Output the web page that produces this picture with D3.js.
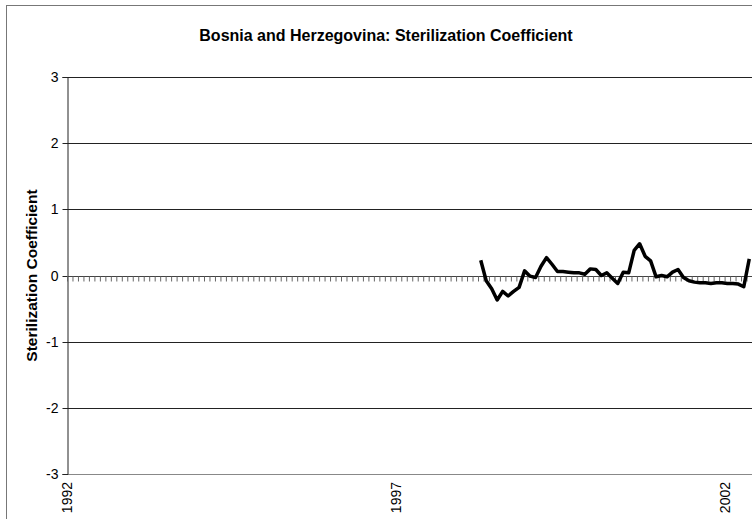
<!DOCTYPE html>
<html>
<head>
<meta charset="utf-8">
<script src="https://cdn.jsdelivr.net/npm/d3@7"></script>
<style>
  html, body { margin: 0; padding: 0; background: #fff; }
  svg { display: block; }
</style>
</head>
<body>
<svg id="chart" width="752" height="519"></svg>
<script>
// ---- data ----
const title = "Bosnia and Herzegovina: Sterilization Coefficient";
const yLabel = "Sterilization Coefficient";
const yTicks = [-3, -2, -1, 0, 1, 2, 3];
const xTickLabels = ["1992", "1997", "2002"];
const xTickMonths = [0, 60, 120];          // months since Jan 1992
const startMonth = 75;                      // first observation (Apr 1998)
const values = [
  0.23, -0.08, -0.20, -0.37, -0.24, -0.31, -0.24, -0.18, 0.07, -0.01,
  -0.03, 0.14, 0.27, 0.17, 0.06, 0.06, 0.05, 0.04, 0.04, 0.02,
  0.10, 0.09, 0.00, 0.04, -0.04, -0.12, 0.05, 0.04, 0.38, 0.48,
  0.29, 0.22, -0.02, 0.00, -0.02, 0.05, 0.09, -0.03, -0.08, -0.10,
  -0.11, -0.11, -0.12, -0.11, -0.11, -0.12, -0.12, -0.13, -0.17, 0.25
];
const totalMonths = 126;

// ---- layout ----
const svg = d3.select("#chart");
const mLeft = 67, mTop = 77, mBottom = 474;
const mRight = mLeft + totalMonths * 5.48;

const x = d3.scaleLinear().domain([0, totalMonths]).range([mLeft, mRight]);
const y = d3.scaleLinear().domain([-3, 3]).range([mBottom, mTop]);

// outer frame
svg.append("rect")
  .attr("x", 6.5).attr("y", 5.5)
  .attr("width", 800).attr("height", 600)
  .attr("fill", "none").attr("stroke", "#777").attr("stroke-width", 1);

// title
svg.append("text")
  .attr("x", 386).attr("y", 41)
  .attr("text-anchor", "middle")
  .attr("font-family", "Liberation Sans, Arial, sans-serif")
  .attr("font-weight", "bold").attr("font-size", 16)
  .text(title);

// gridlines
svg.append("g").selectAll("line")
  .data(yTicks.filter(d => d !== 0))
  .join("line")
  .attr("x1", mLeft).attr("x2", mRight)
  .attr("y1", d => Math.round(y(d)) + 0.5).attr("y2", d => Math.round(y(d)) + 0.5)
  .attr("stroke", d => d === -3 ? "#888" : "#222").attr("stroke-width", 1);

// y axis
const yAxis = d3.axisLeft(y).tickValues(yTicks).tickSize(5).tickFormat(d => String(d));
const gy = svg.append("g")
  .attr("transform", `translate(${mLeft + 0.5},0)`)
  .call(yAxis);
gy.select(".domain").attr("stroke", "#222");
gy.selectAll(".tick line").attr("stroke", "#222");
gy.selectAll(".tick text")
  .attr("font-family", "Liberation Sans, Arial, sans-serif")
  .attr("font-size", 14).attr("fill", "#000").attr("x", -9);
gy.selectAll(".tick").attr("transform", d => `translate(0,${Math.round(y(d)) + 0.5})`);

// x axis at zero with monthly ticks
const xAxis = d3.axisBottom(x)
  .tickValues(d3.range(0, totalMonths + 1))
  .tickSize(5).tickFormat("");
const gx = svg.append("g")
  .attr("transform", `translate(0,${Math.round(y(0)) + 0.5})`)
  .call(xAxis);
gx.select(".domain").attr("stroke", "#444").attr("d", `M${mLeft},0H${mRight}`);
gx.selectAll(".tick line").attr("stroke", "#666");

// year labels at the bottom
svg.append("g").selectAll("text")
  .data(xTickMonths)
  .join("text")
  .attr("transform", d => `translate(${x(d) + 5},${mBottom + 8}) rotate(-90)`)
  .attr("text-anchor", "end")
  .attr("font-family", "Liberation Sans, Arial, sans-serif")
  .attr("font-size", 14)
  .text((d, i) => xTickLabels[i]);

// y label
svg.append("text")
  .attr("transform", `translate(37,${(mTop + mBottom) / 2}) rotate(-90)`)
  .attr("text-anchor", "middle")
  .attr("font-family", "Liberation Sans, Arial, sans-serif")
  .attr("font-weight", "bold").attr("font-size", 15.5)
  .text(yLabel);

// series line
const line = d3.line()
  .x((d, i) => x(startMonth + i + 0.5))
  .y(d => y(d));
svg.append("path")
  .datum(values)
  .attr("d", line)
  .attr("fill", "none")
  .attr("stroke", "#000")
  .attr("stroke-width", 3.5)
  .attr("stroke-linejoin", "round");
</script>
</body>
</html>
